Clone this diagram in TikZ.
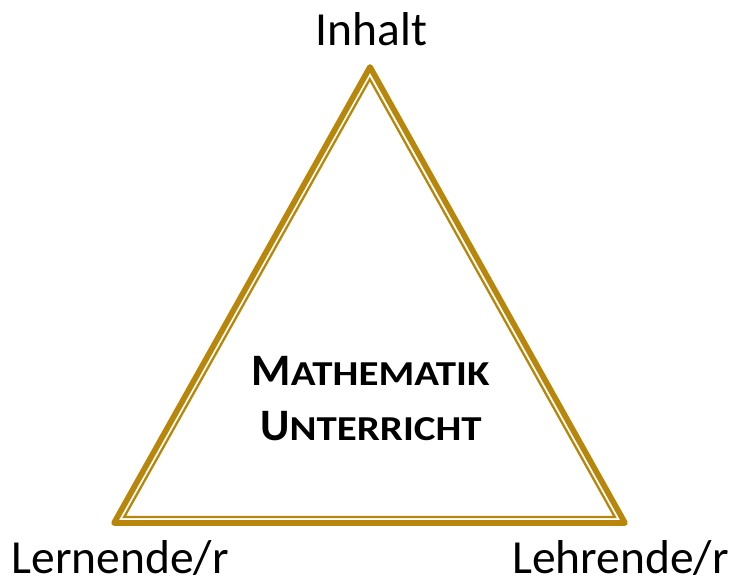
\documentclass[tikz,border=0pt]{standalone}
\usepackage{fontspec}
\setmainfont{Carlito}
\definecolor{gold}{RGB}{184,134,11}
\newcommand{\fakesc}[2]{{\fontsize{45}{50}\selectfont #1}\scalebox{1.17}[1]{\fontsize{35}{40}\selectfont #2}}
\begin{document}
\begin{tikzpicture}[x=1pt,y=-1pt,
  outerline/.style={draw=gold,line width=5.7pt,line join=round},
  innerline/.style={draw=gold,line width=2.3pt,line join=miter},
  lbl/.style={font=\fontsize{47.5}{52}\selectfont,anchor=base,inner sep=0pt},
  title/.style={font=\bfseries,inner sep=0pt,anchor=base}]
\useasboundingbox (0,0) rectangle (732,584);
\coordinate (T) at (370,67);
\coordinate (L) at (114,523);
\coordinate (R) at (625,523);
\coordinate (t) at (369.8,79.3);
\coordinate (l) at (124.2,517);
\coordinate (r) at (614.8,517);
\draw[outerline] (T) -- (L) -- (R) -- cycle;
\draw[innerline] (t) -- (l) -- (r) -- cycle;
\node[lbl] (inhalt) at (371.5,45) {Inhalt};
\node[lbl] (lern) at (120,573.5) {Lernende/r};
\node[lbl] (lehr) at (620.5,573.5) {Lehrende/r};
\node[title] (m1) at (370.5,385) {\fakesc{M}{ATHEMATIK}};
\node[title] (m2) at (371,440) {\fakesc{U}{NTERRICHT}};
\end{tikzpicture}
\end{document}
